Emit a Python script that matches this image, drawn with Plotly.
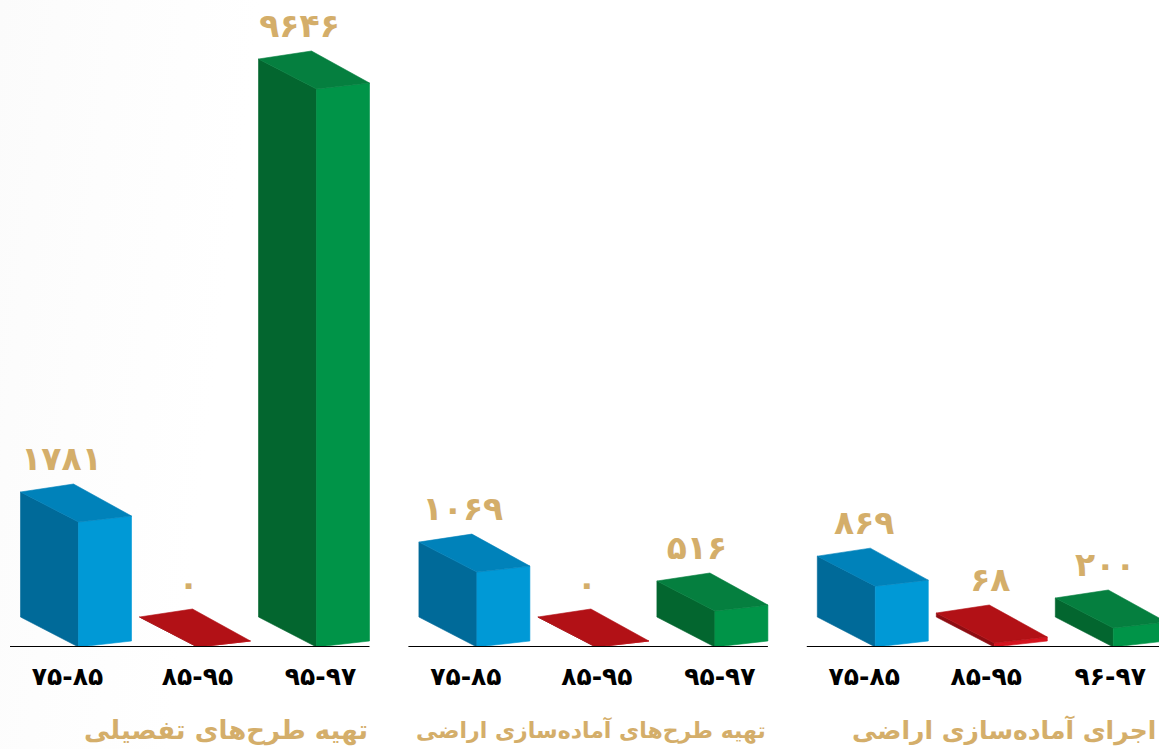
import numpy as np
import plotly.graph_objects as go

# ---- data ----
group_titles = ["تهیه طرح‌های تفصیلی", "تهیه طرح‌های آماده‌سازی اراضی", "اجرای آماده‌سازی اراضی"]
period_labels = [
    ["۷۵-۸۵", "۸۵-۹۵", "۹۵-۹۷"],
    ["۷۵-۸۵", "۸۵-۹۵", "۹۵-۹۷"],
    ["۷۵-۸۵", "۸۵-۹۵", "۹۶-۹۷"],
]
first_period = [1781, 1069, 869]
second_period = [0, 0, 68]
third_period = [9646, 516, 200]

# ---- the graphic's own (non-linear) drawn scale: value -> bar height ----
SCALE_VALUES = [0, 68, 200, 516, 1781, 9646]
SCALE_HEIGHTS = [0, 4, 19, 36, 125, 558]


def bar_height(v):
    return float(np.interp(v, SCALE_VALUES, SCALE_HEIGHTS))


# ---- layout / styling ----
W, H, BASE_PX = 1159, 749, 647
FIRST_X, GROUP_STEP, SLOT_STEP = 78.5, 398.4, 119
L_DX, L_UP = -58, 30
R_DX, R_UP = 53, 6
B_DX, B_UP = -5, 38
GOLD = "#D4AE6A"
FONT = "DejaVu Sans"
PALETTE = [
    dict(side="#006A99", front="#0099D6", top="#0082BA"),
    dict(side="#8E0D12", front="#D5141F", top="#B21116"),
    dict(side="#03662F", front="#009448", top="#057F3F"),
]
TICK_SHIFT = [
    [-11, 0, 4],
    [-11, 1, 5],
    [-11, -8, -3],
]
LABEL_SHIFT = [
    [-17, -9, -17],
    [-14, -9, -18],
    [-11, -4, -8],
]
TITLE_SIZE = [26, 22, 25]
TITLE_RIGHT_SHIFT = [0, 0, -8]


def front_x(g, s):
    return FIRST_X + GROUP_STEP * g + SLOT_STEP * s


def faces(x, h):
    side = [(x, 0), (x + L_DX, L_UP), (x + L_DX, L_UP + h), (x, h)]
    front = [(x, 0), (x + R_DX, R_UP), (x + R_DX, R_UP + h), (x, h)]
    top = [(x, h), (x + L_DX, L_UP + h), (x + B_DX, B_UP + h), (x + R_DX, R_UP + h)]
    return dict(side=side, front=front, top=top)


def to_persian(v):
    return str(v).translate(str.maketrans("0123456789", "۰۱۲۳۴۵۶۷۸۹"))


series = [first_period, second_period, third_period]
fig = go.Figure()

for s, values in enumerate(series):
    for face in ("side", "front", "top"):
        xs, ys = [], []
        for g, v in enumerate(values):
            pts = faces(front_x(g, s), bar_height(v))[face]
            xs += [p[0] for p in pts] + [pts[0][0], None]
            ys += [p[1] for p in pts] + [pts[0][1], None]
        fig.add_trace(go.Scatter(
            x=xs, y=ys, mode="lines", fill="toself",
            fillcolor=PALETTE[s][face],
            line=dict(width=0.6, color=PALETTE[s][face]),
            hoverinfo="skip", showlegend=False, cliponaxis=False,
        ))

# baselines
for g in range(3):
    x0 = front_x(g, 0) + L_DX - 10.5
    x1 = front_x(g, 2) + R_DX
    fig.add_trace(go.Scatter(x=[x0, x1], y=[0, 0], mode="lines",
                             line=dict(color="#000000", width=2),
                             hoverinfo="skip", showlegend=False, cliponaxis=False))

# value labels
lx, ly, lt = [], [], []
for s, values in enumerate(series):
    for g, v in enumerate(values):
        lx.append(front_x(g, s) + LABEL_SHIFT[g][s])
        ly.append(bar_height(v) + B_UP + 22)
        lt.append(to_persian(v))
fig.add_trace(go.Scatter(x=lx, y=ly, text=lt, mode="text", textposition="middle center",
                         textfont=dict(family=FONT, size=33, color=GOLD, weight="bold"),
                         hoverinfo="skip", showlegend=False, cliponaxis=False))

# tick labels on the real x axis
tickvals, ticktext = [], []
for g, labels in enumerate(period_labels):
    for s, t in enumerate(labels):
        tickvals.append(front_x(g, s) + TICK_SHIFT[g][s])
        ticktext.append(t)

# group titles
for g, title in enumerate(group_titles):
    fig.add_annotation(x=front_x(g, 2) + R_DX + TITLE_RIGHT_SHIFT[g], y=-83 / BASE_PX,
                       text="<b>%s</b>" % title,
                       xref="x", yref="paper", xanchor="right", yanchor="middle", showarrow=False,
                       font=dict(family=FONT, size=TITLE_SIZE[g], color=GOLD))

fig.update_layout(
    width=W, height=H, margin=dict(l=0, r=0, t=0, b=H - BASE_PX),
    paper_bgcolor="rgba(0,0,0,0)", plot_bgcolor="rgba(0,0,0,0)", showlegend=False,
    xaxis=dict(range=[0, W], tickvals=tickvals, ticktext=ticktext, tickangle=0, ticks="",
               showgrid=False, zeroline=False, showline=False, ticklabelstandoff=12,
               tickfont=dict(family=FONT, size=25, color="#000000", weight="bold")),
    yaxis=dict(range=[0, BASE_PX], visible=False, showgrid=False, zeroline=False),
)

fig.write_html(
    "out.html",
    config=dict(displayModeBar=False),
    post_script=(
        "document.body.style.margin='0';document.body.style.overflow='hidden';"
        "document.body.style.background='linear-gradient(97deg,#fbfbfb 0,#fdfdfd 120px,#ffffff 260px)';"
    ),
)
